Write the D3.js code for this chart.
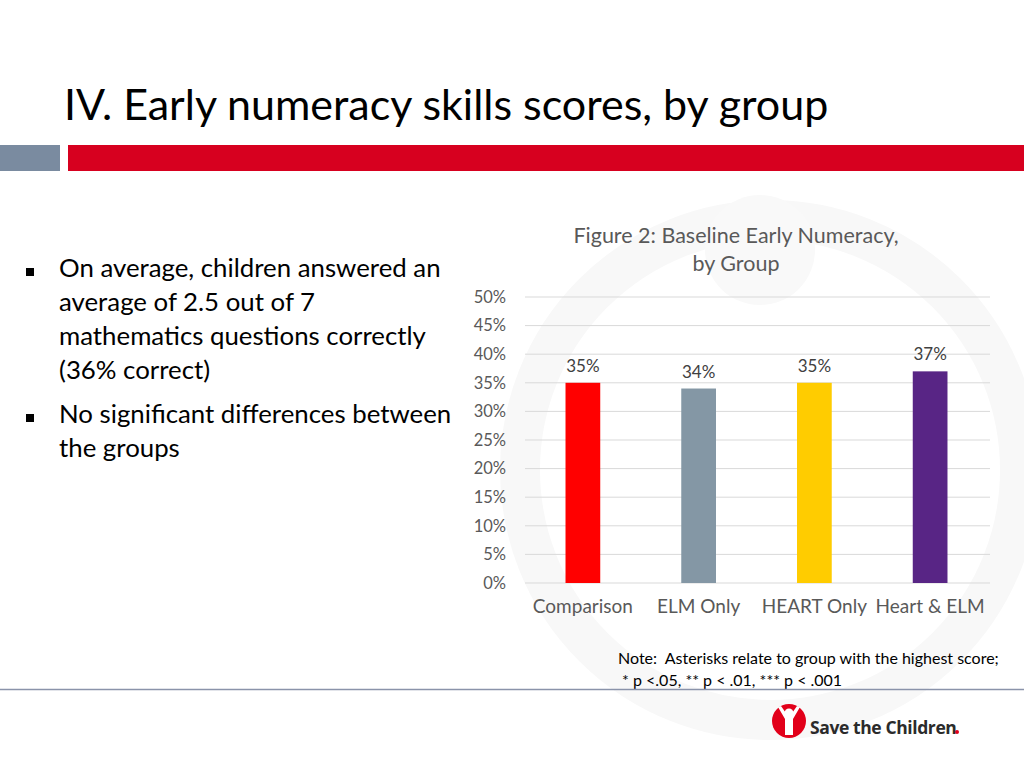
<!DOCTYPE html>
<html><head><meta charset="utf-8">
<script src="https://cdn.jsdelivr.net/npm/d3@7/dist/d3.min.js"></script>
<style>body{margin:0;background:#fff;}svg{display:block;}</style>
</head><body>
<script>
const categories = ["Comparison", "ELM Only", "HEART Only", "Heart & ELM"];
const values = [0.35, 0.34, 0.35, 0.37];
const valueLabels = ["35%", "34%", "35%", "37%"];
const barColors = ["#FF0000", "#8497A5", "#FFCC00", "#582585"];
const yTicks = [0, 0.05, 0.10, 0.15, 0.20, 0.25, 0.30, 0.35, 0.40, 0.45, 0.50];
const titleText = "IV. Early numeracy skills scores, by group";
const chartTitle = ["Figure 2: Baseline Early Numeracy,", "by Group"];
const bullets = [
  ["On average, children answered an", "average of 2.5 out of 7", "mathematics questions correctly", "(36% correct)"],
  ["No significant differences between", "the groups"]
];
const noteLines = ["Note:  Asterisks relate to group with the highest score;", " * p <.05, ** p < .01, *** p < .001"];

const W = 1024, H = 768;
const font = "Lato, 'Open Sans', sans-serif";
const svg = d3.select("body").append("svg").attr("width", W).attr("height", H);

// faint watermark
const wm = svg.append("g").attr("fill", "none").attr("stroke", "#f8f8f8");
wm.append("circle").attr("cx", 770).attr("cy", 470).attr("r", 250).attr("stroke-width", 40);
wm.append("circle").attr("cx", 760).attr("cy", 250).attr("r", 55).attr("fill", "#f9f9f9").attr("stroke", "none");

// header
svg.append("text").attr("x", 64).attr("y", 120).attr("font-family", font).attr("font-size", 43)
  .attr("fill", "#000").text(titleText);
svg.append("rect").attr("x", 0).attr("y", 145).attr("width", 60).attr("height", 26).attr("fill", "#7a8ba0");
svg.append("rect").attr("x", 68).attr("y", 145).attr("width", W - 68).attr("height", 26).attr("fill", "#D7001F");

// bullets
const lineH = 34;
let by = 277;
bullets.forEach(b => {
  svg.append("rect").attr("x", 26).attr("y", by - 9).attr("width", 8).attr("height", 8).attr("fill", "#000");
  b.forEach((l, i) => {
    svg.append("text").attr("x", 59).attr("y", by + i * lineH).attr("font-family", font)
      .attr("font-size", 25.8).attr("fill", "#000").text(l);
  });
  by += b.length * lineH + 10;
});

// chart
const x = d3.scaleBand().domain(categories).range([525, 988]).paddingInner(0.7).paddingOuter(0.35);
const y = d3.scaleLinear().domain([0, 0.5]).range([583, 297]);

chartTitle.forEach((t, i) => {
  svg.append("text").attr("x", 736).attr("y", 243 + i * 28).attr("text-anchor", "middle")
    .attr("font-family", font).attr("font-size", 21.5).attr("fill", "#595959").text(t);
});

const grid = svg.append("g");
grid.selectAll("line").data(yTicks).join("line")
  .attr("x1", 525).attr("x2", 990).attr("y1", d => y(d)).attr("y2", d => y(d))
  .attr("stroke", "#d9d9d9").attr("stroke-width", 1);

const yAxis = svg.append("g").attr("transform", "translate(509,0)")
  .call(d3.axisLeft(y).tickValues(yTicks).tickFormat(d3.format(".0%")).tickSize(0));
yAxis.select(".domain").remove();
yAxis.selectAll("text").attr("font-family", font).attr("font-size", 16.5).attr("fill", "#595959");

svg.append("g").selectAll("rect").data(values).join("rect")
  .attr("x", (d, i) => x(categories[i])).attr("width", x.bandwidth())
  .attr("y", d => y(d)).attr("height", d => y(0) - y(d))
  .attr("fill", (d, i) => barColors[i]);

svg.append("g").selectAll("text").data(values).join("text")
  .attr("x", (d, i) => x(categories[i]) + x.bandwidth() / 2)
  .attr("y", d => y(d) - 11).attr("text-anchor", "middle")
  .attr("font-family", font).attr("font-size", 17).attr("fill", "#404040")
  .text((d, i) => valueLabels[i]);

const xAxis = svg.append("g").attr("transform", "translate(0,583)")
  .call(d3.axisBottom(x).tickSize(0).tickPadding(17));
xAxis.select(".domain").remove();
xAxis.selectAll("text").attr("font-family", font).attr("font-size", 19).attr("fill", "#595959");

// note
noteLines.forEach((t, i) => {
  svg.append("text").attr("x", 618).attr("y", 664 + i * 22).attr("font-family", font)
    .attr("font-size", 16).attr("fill", "#000").style("white-space", "pre").text(t);
});

svg.append("line").attr("x1", 0).attr("x2", W).attr("y1", 689.5).attr("y2", 689.5)
  .attr("stroke", "#8a93aa").attr("stroke-width", 1.5);

// logo
const lg = svg.append("g").attr("transform", "translate(789,721)");
lg.append("circle").attr("r", 17).attr("fill", "#E2001A");
lg.append("circle").attr("cx", 0).attr("cy", -8).attr("r", 4.5).attr("fill", "#fff");
lg.append("path").attr("d", "M-11,-14 L-4,-2 L-4,14 L4,14 L4,-2 L11,-14 L8,-15 L1,-5 L-1,-5 L-8,-15 Z").attr("fill", "#fff");
svg.append("text").attr("x", 810).attr("y", 734).attr("font-family", "'Open Sans', Lato, sans-serif")
  .attr("font-weight", "bold").attr("font-size", 17.5).attr("fill", "#2b2b2b").attr("letter-spacing", -0.4).text("Save the Children");
svg.append("circle").attr("cx", 957).attr("cy", 732).attr("r", 2).attr("fill", "#E2001A");
</script>
</body></html>
